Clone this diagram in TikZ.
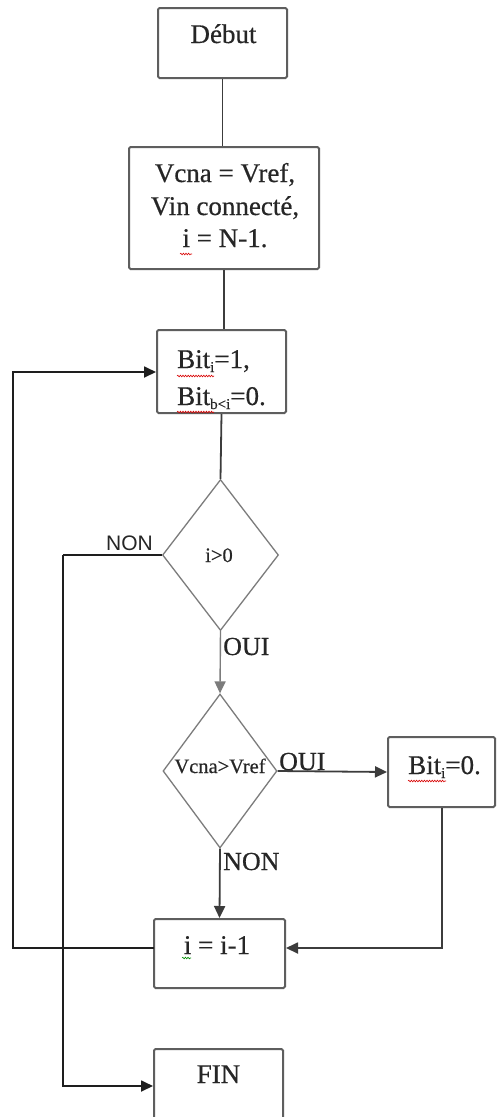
\documentclass[tikz,border=0pt]{standalone}
\usepackage{fontspec}
\setmainfont{Liberation Serif}[FakeBold=0.5]
\newfontfamily\lsans{Liberation Sans}
\usetikzlibrary{arrows.meta,shapes.geometric,decorations.pathmorphing}
\definecolor{boxgray}{HTML}{5E5E5E}
\definecolor{diagray}{HTML}{7C7C7C}
\definecolor{linec}{HTML}{3C3C3C}
\definecolor{loopc}{HTML}{1E1E1E}
\definecolor{textc}{HTML}{262626}
\begin{document}
\begin{tikzpicture}[x=1pt,y=-1pt,
  box/.style={draw=boxgray, line width=2pt, rounded corners=1.5pt, inner sep=0pt},
  dia/.style={diamond, draw=diagray, line width=1.3pt, inner sep=0pt},
  txt/.style={inner sep=0pt, text=textc, font=\fontsize{27}{32}\selectfont},
  small/.style={inner sep=0pt, text=textc, font=\fontsize{20.5}{24}\selectfont},
  lbl/.style={inner sep=0pt, text=textc, font=\fontsize{26}{30}\selectfont},
  conn/.style={draw=linec, line width=1.8pt},
  loop/.style={draw=loopc, line width=1.8pt},
  arr/.style={-{Triangle[length=12pt,width=11pt]}},
  squig/.style={draw=red!85!black, line width=0.6pt, decorate, decoration={snake, amplitude=0.8pt, segment length=2.6pt}},
  squigg/.style={draw=green!55!black, line width=0.6pt, decorate, decoration={snake, amplitude=0.8pt, segment length=2.6pt}}
]
\useasboundingbox (0,0) rectangle (496,1117);
\clip (0,0) rectangle (496,1117);
\fill[white] (0,0) rectangle (496,1117);

% boxes
\node[box, minimum width=129pt, minimum height=70pt] (debut) at (222.5,43) {};
\node[box, minimum width=190pt, minimum height=122pt] (init) at (224,208) {};
\node[box, minimum width=129pt, minimum height=83pt] (bit) at (221.5,371.5) {};
\node[dia, minimum width=116pt, minimum height=151pt] (d1) at (220.5,555) {};
\node[dia, minimum width=114pt, minimum height=154pt] (d2) at (220,771) {};
\node[box, minimum width=107pt, minimum height=70pt] (bitz) at (441.5,772) {};
\node[box, minimum width=131pt, minimum height=69pt] (dec) at (219.5,953.5) {};
\node[box, minimum width=129pt, minimum height=74pt] (fin) at (218.5,1086) {};

% texts
\node[txt, anchor=base] (tdebut) at (223.5,43) {Début};
\node[txt, anchor=base] (tinit1) at (225,182) {Vcna = Vref,};
\node[txt, anchor=base] (tinit2) at (225,215) {Vin connecté,};
\node[txt, anchor=base] (tinit3) at (225,247) {i = N-1.};
\node[txt, anchor=base west] (tbit1) at (177,368) {Bit{\fontsize{15}{15}\selectfont\raisebox{-4pt}{i}}=1,};
\node[txt, anchor=base west] (tbit2) at (177,405) {Bit{\fontsize{15}{15}\selectfont\raisebox{-4pt}{b<i}}=0.};
\node[small, anchor=base] (td1) at (219,562) {i>0};
\node[small, anchor=base] (td2) at (220,773) {Vcna>Vref};
\node[txt, anchor=base west] (tbitz) at (408,774) {Bit{\fontsize{15}{15}\selectfont\raisebox{-4pt}{i}}=0.};
\node[txt, anchor=base] (tdec) at (217,954) {i = i-1};
\node[txt, anchor=base] (tfin) at (218.5,1083) {FIN};

% labels
\node[inner sep=0pt, text=textc, font=\lsans\fontsize{21}{25}\selectfont, anchor=base west] (lnon1) at (106,550) {NON};
\node[lbl, anchor=base west] (loui1) at (223,655) {OUI};
\node[lbl, anchor=base west] (loui2) at (279,770) {OUI};
\node[lbl, anchor=base west] (lnon2) at (223,870) {NON};

% spell-check squiggles
\draw[squig] (180,254) -- (192,254);
\draw[squig] (177,376) -- (214,376);
\draw[squig] (177,412) -- (214,412);
\draw[squig] (408,781) -- (446,781);
\draw[squigg] (182,958) -- (191,958);

% connectors
\coordinate (c1) at (63,555);
\coordinate (c2) at (63,1086);
\coordinate (c3) at (442,948);
\coordinate (c4) at (13,948);
\coordinate (c5) at (13,372);
\coordinate (c6) at (154,948);

\draw[conn] (debut.south) -- (debut.south |- init.north);
\draw[conn] (init.south) -- (init.south |- bit.north);
\draw[conn] (bit.south) -- (d1.north);
\draw[conn, draw=diagray, line width=1.4pt, arr] (d1.south) -- (d2.north);
\draw[conn, arr] (d2.east) -- (bitz.west);
\draw[conn, arr] (d2.south) -- (dec.north);
\draw[conn, arr] (bitz.south -| c3) -- (c3) -- (c3 -| dec.east);
\draw[loop, arr] (c1) -- (c2) -- (c2 -| fin.west);
\draw[loop] (d1.west) -- (c1);
\draw[loop, arr] (c6) -- (c4) -- (c5) -- (c5 -| bit.west);
\end{tikzpicture}
\end{document}
